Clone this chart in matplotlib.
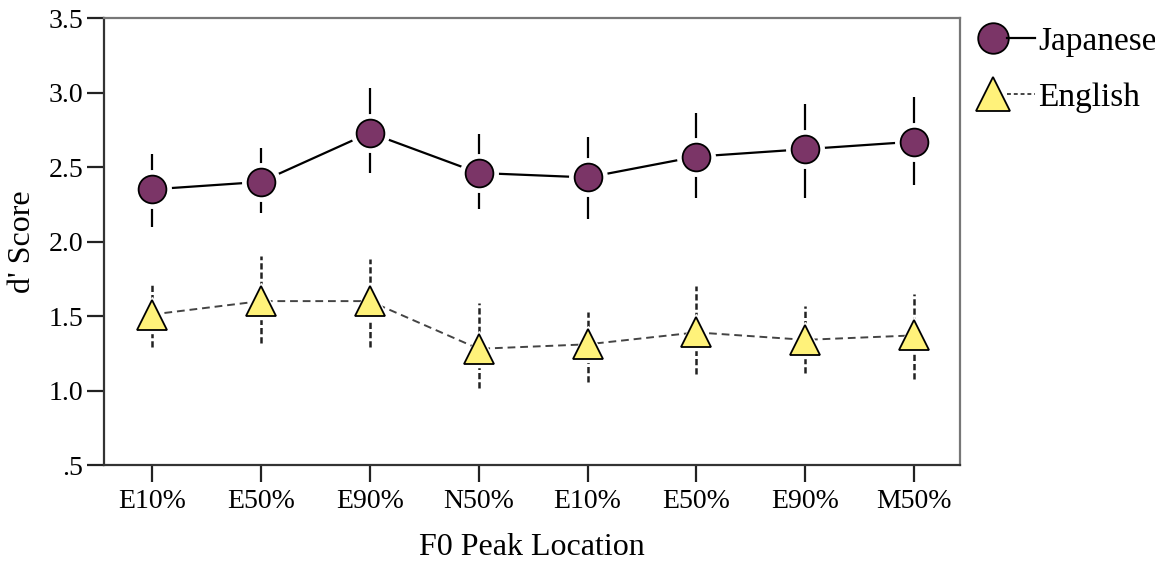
import matplotlib
matplotlib.use("Agg")
import matplotlib.pyplot as plt
import numpy as np
from matplotlib.lines import Line2D
from matplotlib.legend_handler import HandlerTuple

# ---- data ----
categories = ["E10%", "E50%", "E90%", "N50%", "E10%", "E50%", "E90%", "M50%"]
jp_mean = [2.35, 2.40, 2.73, 2.46, 2.43, 2.57, 2.62, 2.67]
jp_upper = [2.59, 2.63, 3.03, 2.72, 2.70, 2.86, 2.92, 2.97]
jp_lower = [2.10, 2.19, 2.46, 2.22, 2.15, 2.29, 2.29, 2.38]
en_mean = [1.51, 1.60, 1.60, 1.28, 1.31, 1.39, 1.34, 1.37]
en_upper = [1.71, 1.90, 1.88, 1.59, 1.53, 1.70, 1.57, 1.65]
en_lower = [1.29, 1.32, 1.29, 1.02, 1.06, 1.11, 1.12, 1.08]
yticks = [0.5, 1.0, 1.5, 2.0, 2.5, 3.0, 3.5]
ytick_labels = [".5", "1.0", "1.5", "2.0", "2.5", "3.0", "3.5"]

purple = "#7B3567"
yellow = "#FFF27A"
serif = ["Liberation Serif", "DejaVu Serif"]
plt.rcParams["font.family"] = serif

fig = plt.figure(figsize=(11.55, 5.61), dpi=100)
ax = fig.add_axes([0.0900, 0.1711, 0.8312 - 0.0900, 0.9679 - 0.1711])

x = np.arange(len(categories))
jm, ju, jl = map(np.array, (jp_mean, jp_upper, jp_lower))
em, eu, el = map(np.array, (en_mean, en_upper, en_lower))

# Japanese
ax.vlines(x, jl, ju, colors="black", linewidth=1.6, zorder=1)
ax.plot(x, jm, "-", color="black", lw=1.6, zorder=2)
ax.plot(x, jm, "o", ms=27, mfc="white", mec="white", zorder=3)
ax.plot(x, jm, "o", ms=20, mfc=purple, mec="black", mew=1.3, zorder=4)

# English
ax.vlines(x, el, eu, colors="#222222", linewidth=1.8, linestyles=(0, (2.5, 1.2)), zorder=1)
ax.plot(x, em, "-", color="#444444", lw=1.4, dashes=(4, 2.5), zorder=2)
ax.plot(x, em, "^", ms=26, mfc="white", mec="white", zorder=3)
ax.plot(x, em, "^", ms=22, mfc=yellow, mec="black", mew=1.3, zorder=4)

ax.set_xlim(-0.44, 7.42)
ax.set_ylim(0.5, 3.5)
ax.set_xticks(x)
ax.set_xticklabels(categories)
ax.set_yticks(yticks)
ax.set_yticklabels(ytick_labels)
ax.tick_params(axis="both", direction="out", length=12, width=1.6, color="#222222",
               labelsize=20, pad=3)
ax.tick_params(axis="x", pad=5)
for side, sp in ax.spines.items():
    sp.set_linewidth(1.6)
    sp.set_color("#333333")
ax.spines["top"].set_color("#777777")
ax.spines["right"].set_color("#777777")

ax.set_xlabel("F0 Peak Location", fontsize=23, labelpad=14)
ax.set_ylabel("d' Score", fontsize=23, labelpad=8)

h_jp = (Line2D([], [], marker="o", ms=22, mfc=purple, mec="black", mew=1.3, ls="none"),
        Line2D([], [], color="black", lw=1.6))
h_en = (Line2D([], [], marker="^", ms=24, mfc=yellow, mec="black", mew=1.3, ls="none"),
        Line2D([], [], color="#444444", lw=1.4, dashes=(2, 1.5)))
fig.legend([h_jp, h_en], ["Japanese", "English"],
           handler_map={tuple: HandlerTuple(ndivide=None, pad=0)},
           loc="upper left", bbox_to_anchor=(0.828, 0.995), frameon=False,
           fontsize=24, handlelength=1.65, handletextpad=0.1, labelspacing=0.78,
           borderaxespad=0.3)

fig.savefig("out.png", dpi=100)
